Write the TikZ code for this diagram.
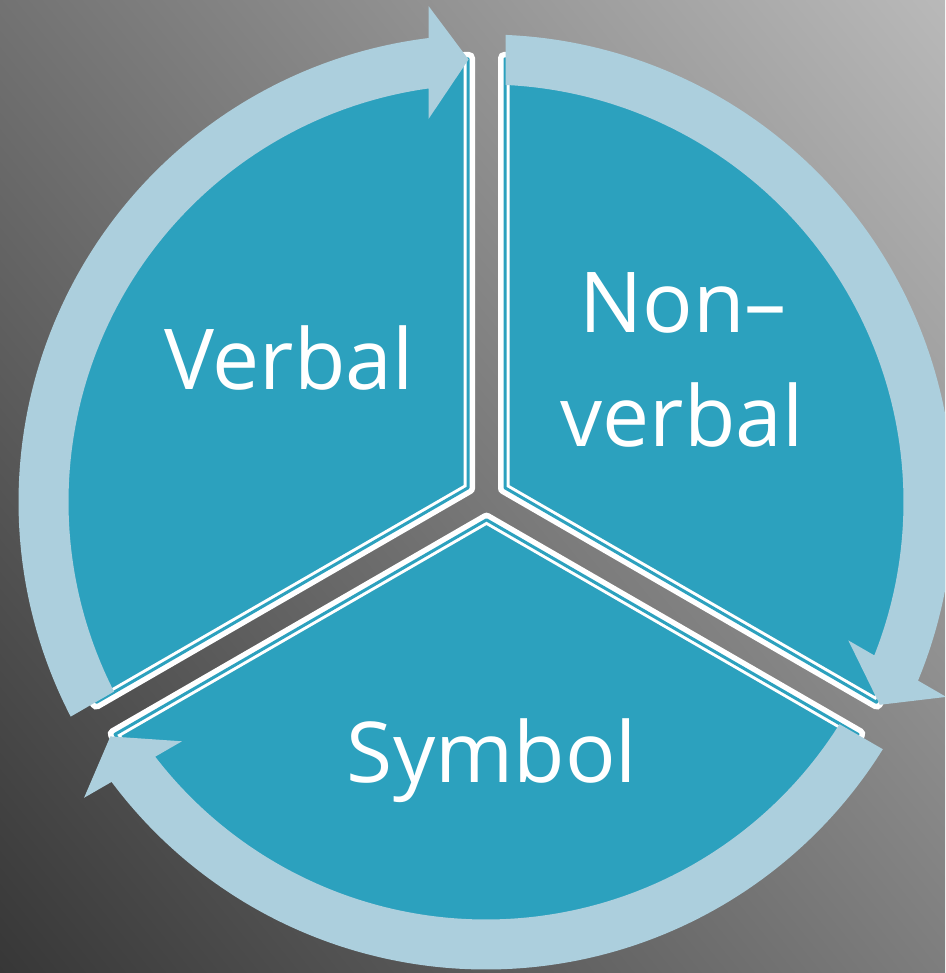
\documentclass[tikz,border=0pt]{standalone}
\usepackage{fontspec}
\setmainfont{Open Sans}
\definecolor{ringblue}{RGB}{172,207,221}
\definecolor{secblue}{RGB}{44,161,190}
\definecolor{bgdark}{RGB}{55,55,55}
\definecolor{bglight}{RGB}{185,185,185}
% sector outline (inset #3 from outer boundary), angles #1..#2, radius 440 around the scope origin
\newcommand\secpath[3]{({(#1+#2)/2}:{1.1547*#3}) -- ({#2-asin(#3/(440-#3))}:{440-#3}) arc[start angle={#2-asin(#3/(440-#3))}, end angle={#1+asin(#3/(440-#3))}, radius={440-#3}] -- cycle}
\newcommand\drawsector[2]{%
  \path[secfill] \secpath{#1}{#2}{5.75};
  \path[secthin] \secpath{#1}{#2}{7};}
\begin{document}
\begin{tikzpicture}[x=1pt,y=1pt,
  lbl/.style={text=white, inner sep=0pt, anchor=base, font=\fontsize{84}{100}\selectfont},
  ringarrow/.style={fill=ringblue},
  secfill/.style={fill=secblue, draw=white, line width=11.5pt, line join=round},
  secthin/.style={draw=secblue, line width=3pt, line join=round}]
\useasboundingbox (0,0) rectangle (945,973);
\begin{scope}
\clip (0,0) rectangle (945,973);
% background gradient
\begin{scope}[transform canvas={shift={(472.5pt,486.5pt)}, rotate=39.2}]
  \shade[left color=bgdark, right color=bglight] (-674,-820) rectangle (674,820);
\end{scope}
% sectors
\begin{scope}[shift={(475,481.14)}]
  \drawsector{90}{210}
\end{scope}
\begin{scope}[shift={(498,481.14)}]
  \drawsector{-30}{90}
\end{scope}
\begin{scope}[shift={(486.5,461.22)}]
  \drawsector{210}{330}
\end{scope}
% circular arrows
\begin{scope}[shift={(486,471)}]
  \path[ringarrow] (207.327:467.5) arc[start angle=207.327, end angle=97.066, radius=467.5]
    -- (96.613:499.32) -- (92.265:442.85) -- (98.538:387.29) -- (97.916:417.5)
    arc[start angle=97.916, end angle=207.007, radius=417.5] -- cycle;
  \path[ringarrow] (87.609:467.5) arc[start angle=87.609, end angle=-22.466, radius=467.5]
    -- (-22.955:499.77) -- (-27.244:443.01) -- (-20.907:387.87) -- (-21.557:417.5)
    arc[start angle=-21.557, end angle=87.323, radius=417.5] -- cycle;
  \path[ringarrow] (-31.924:467.5) arc[start angle=-31.924, end angle=-143.219, radius=467.5]
    -- (-143.650:499.06) -- (-148.033:442.76) -- (-141.799:386.96) -- (-142.403:417.5)
    arc[start angle=-142.403, end angle=-32.155, radius=417.5] -- cycle;
\end{scope}
% labels
\node[lbl] (verbal) at (289,583) {Verbal};
\node[lbl] (nonverbalA) at (683,640) {Non–};
\node[lbl] (nonverbalB) at (682,526) {verbal};
\node[lbl] (symbol) at (492,190) {Symbol};
\end{scope}
\end{tikzpicture}
\end{document}
